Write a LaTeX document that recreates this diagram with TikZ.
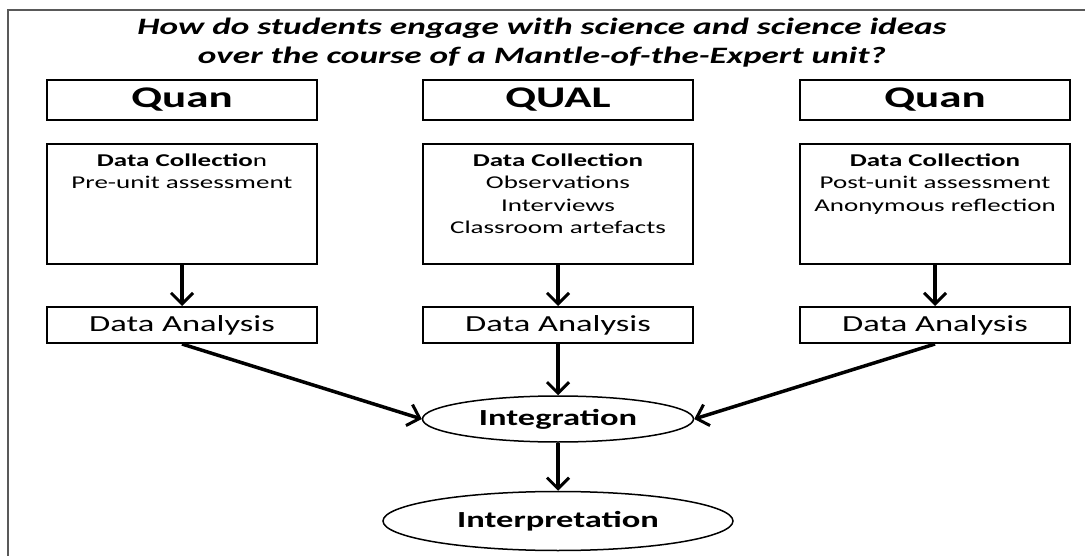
\documentclass[tikz,border=0pt]{standalone}
\usepackage{fontspec}
\setmainfont{Carlito}[FakeStretch=1.5]
\usepackage{tikz}
\usetikzlibrary{shapes.geometric, arrows.meta, positioning}
\tikzstyle{method} = [rectangle, draw=black, line width=2pt, minimum width=270pt, minimum height=40pt, font=\fontsize{30}{34}\selectfont\bfseries]
\tikzstyle{collect} = [rectangle, draw=black, line width=2pt, minimum width=270pt, minimum height=120pt, anchor=north]
\tikzstyle{collecttext} = [anchor=north, align=center, yshift=-7pt, font=\fontsize{18}{22.5}\selectfont]
\tikzstyle{analysis} = [rectangle, draw=black, line width=2pt, minimum width=270pt, minimum height=36pt, font=\fontsize{23}{27}\selectfont]
\tikzstyle{stage} = [ellipse, draw=black, line width=1.5pt, inner sep=0pt, font=\fontsize{23}{27}\selectfont\bfseries]
\tikzstyle{arrow} = [line width=3.5pt, -{Straight Barb[length=11pt, width=22pt, line width=3pt]}]

\begin{document}
\begin{tikzpicture}[x=1pt, y=-1pt]
        \useasboundingbox (0,0) rectangle (1085,556);
        \draw[line width=2pt, black!65] (8,556) -- (8,10) -- (1085,10);

        \node[align=center, font=\fontsize{23.5}{29}\selectfont\bfseries\itshape] (question) at (542,43)
            {How do students engage with science and science ideas\\over the course of a Mantle-of-the-Expert unit?};

        % three strands
        \node[method] (quanL) at (182,100) {Quan};
        \node[method] (qual) at (558,100) {QUAL};
        \node[method] (quanR) at (935,100) {Quan};

        \node[collect] (collL) at (182,143) {};
        \node[collect] (collM) at (558,143) {};
        \node[collect] (collR) at (935,143) {};
        \node[collecttext] (collLtext) at (collL.north) {\textbf{Data Collectio}n\\Pre-unit assessment};
        \node[collecttext] (collMtext) at (collM.north) {\textbf{Data Collection}\\Observations\\Interviews\\Classroom artefacts};
        \node[collecttext] (collRtext) at (collR.north) {\textbf{Data Collection}\\Post-unit assessment\\Anonymous reflection};

        \node[analysis] (analL) at (182,325) {Data Analysis};
        \node[analysis] (analM) at (558,325) {Data Analysis};
        \node[analysis] (analR) at (935,325) {Data Analysis};

        \node[stage, minimum width=271pt, minimum height=46pt] (integ) at (558,419) {Integration};
        \node[stage, minimum width=350pt, minimum height=59pt] (interp) at (558,521) {Interpretation};

        \draw[arrow] (collL) -- (analL);
        \draw[arrow] (collM) -- (analM);
        \draw[arrow] (collR) -- (analR);
        \draw[arrow] (analL.south) -- (integ.west);
        \draw[arrow] (analM) -- (integ);
        \draw[arrow] (analR.south) -- (integ.east);
        \draw[arrow] (integ) -- (interp);
\end{tikzpicture}
\end{document}
